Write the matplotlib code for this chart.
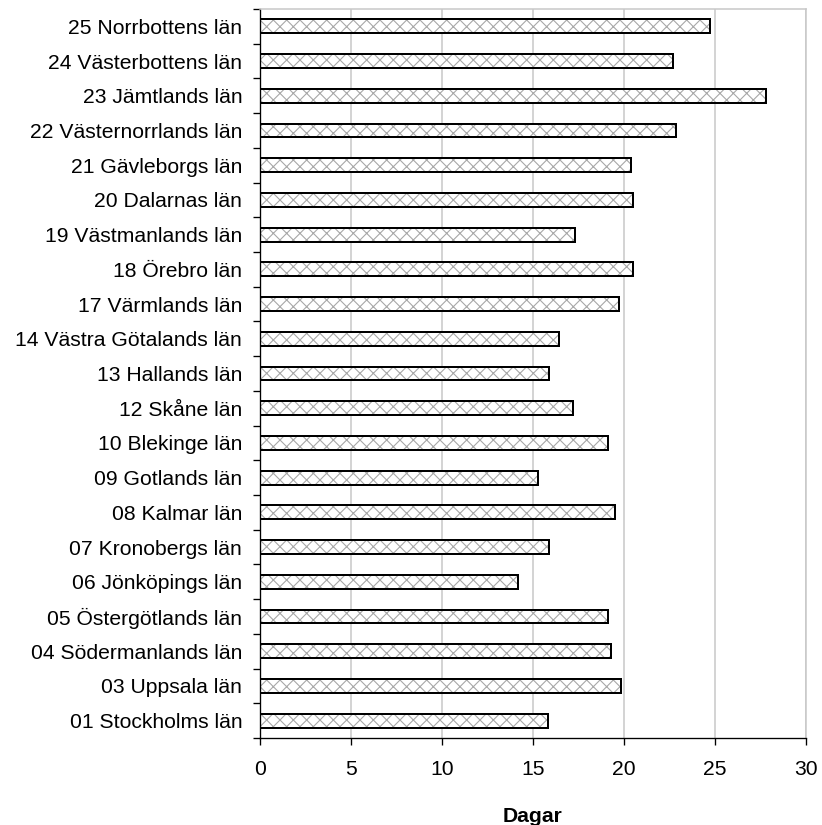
import matplotlib.pyplot as plt
import numpy as np

plt.rcParams['font.family'] = ['Liberation Sans', 'DejaVu Sans']
plt.rcParams['hatch.linewidth'] = 1.0

# counties, bottom to top
lan = ['01 Stockholms län', '03 Uppsala län', '04 Södermanlands län',
       '05 Östergötlands län', '06 Jönköpings län', '07 Kronobergs län',
       '08 Kalmar län', '09 Gotlands län', '10 Blekinge län', '12 Skåne län',
       '13 Hallands län', '14 Västra Götalands län', '17 Värmlands län',
       '18 Örebro län', '19 Västmanlands län', '20 Dalarnas län',
       '21 Gävleborgs län', '22 Västernorrlands län', '23 Jämtlands län',
       '24 Västerbottens län', '25 Norrbottens län']
dagar = [15.8, 19.85, 19.3, 19.1, 14.15, 15.9, 19.5, 15.25, 19.1, 17.2,
         15.9, 16.45, 19.75, 20.5, 17.33, 20.5, 20.4, 22.83, 27.8, 22.7, 24.7]
xticks = [0, 5, 10, 15, 20, 25, 30]

dpi = 80
fig = plt.figure(figsize=(822 / dpi, 825 / dpi), dpi=dpi)
ax = fig.add_axes([260 / 822, 87 / 825, 546 / 822, 729 / 825])

y = np.arange(len(lan))
# hatch drawn grey, outline drawn black on top
ax.barh(y, dagar, height=0.4, color='white', edgecolor='#a8a8a8',
        hatch='xx', linewidth=0, zorder=2)
ax.barh(y, dagar, height=0.4, fill=False, edgecolor='black',
        linewidth=1.8, zorder=3)

ax.set_xlim(0, 30)
ax.set_ylim(-0.5, len(lan) - 0.5)
ax.set_xticks(xticks)
ax.set_yticks(y)
ax.set_yticklabels(lan)
ax.set_yticks(np.arange(len(lan) + 1) - 0.5, minor=True)

ax.tick_params(axis='y', which='major', length=0, pad=16, labelsize=19)
ax.tick_params(axis='y', which='minor', length=6, width=1.2, direction='out')
ax.tick_params(axis='x', length=6, width=1.2, direction='out', pad=14,
               labelsize=19)

ax.grid(axis='x', color='#c8c8c8', linewidth=1.4, zorder=0)
ax.set_axisbelow(True)
for s in ['top', 'right']:
    ax.spines[s].set_color('#c8c8c8')
    ax.spines[s].set_linewidth(1.4)
for s in ['left', 'bottom']:
    ax.spines[s].set_linewidth(1.2)

ax.set_xlabel('Dagar', fontsize=19, fontweight='bold', labelpad=25)

fig.savefig('out.png', dpi=dpi)
